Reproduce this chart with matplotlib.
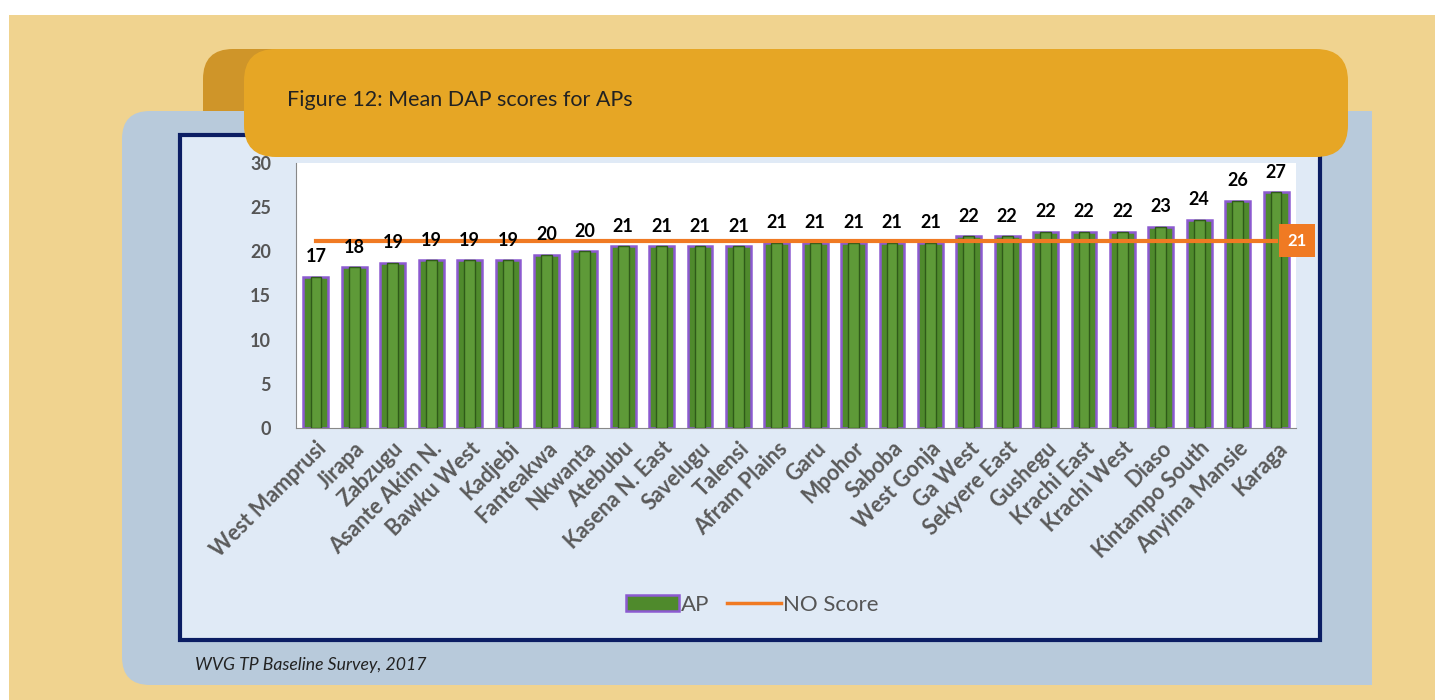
import matplotlib.pyplot as plt
import numpy as np
from matplotlib.patches import FancyBboxPatch, Rectangle, Patch
from matplotlib.lines import Line2D

# данные
areas = ["West Mamprusi", "Jirapa", "Zabzugu", "Asante Akim N.", "Bawku West",
         "Kadjebi", "Fanteakwa", "Nkwanta", "Atebubu", "Kasena N. East",
         "Savelugu", "Talensi", "Afram Plains", "Garu", "Mpohor", "Saboba",
         "West Gonja", "Ga West", "Sekyere East", "Gushegu", "Krachi East",
         "Krachi West", "Diaso", "Kintampo South", "Anyima Mansie", "Karaga"]
ap_scores = [17.1, 18.2, 18.7, 19.0, 19.0, 19.0, 19.6, 20.0, 20.6, 20.6,
             20.6, 20.6, 21.0, 21.0, 21.0, 21.0, 21.0, 21.7, 21.7, 22.2,
             22.2, 22.2, 22.8, 23.6, 25.7, 26.7]
ap_labels = ["17", "18", "19", "19", "19", "19", "20", "20", "21", "21",
             "21", "21", "21", "21", "21", "21", "21", "22", "22", "22",
             "22", "22", "23", "24", "26", "27"]
no_score = 21.2
no_label = "21"
yticks = [0, 5, 10, 15, 20, 25, 30]

W, H = 1435, 700
fig = plt.figure(figsize=(W / 100, H / 100), dpi=100)
fig.patch.set_facecolor("white")

# фон в пикселях
bg = fig.add_axes([0, 0, 1, 1])
bg.set_xlim(0, W)
bg.set_ylim(H, 0)
bg.axis("off")

bg.add_patch(Rectangle((9, 15), W - 9, H - 15, facecolor="#f0d38f", edgecolor="none"))
bg.add_patch(FancyBboxPatch((203, 49), 120, 100, boxstyle="round,pad=0,rounding_size=30",
                            facecolor="#cf9529", edgecolor="none"))
bg.add_patch(FancyBboxPatch((122, 111), 1250, 574, boxstyle="round,pad=0,rounding_size=28",
                            facecolor="#b8cadb", edgecolor="none"))
bg.add_patch(Rectangle((1300, 111), 72, 574, facecolor="#b8cadb", edgecolor="none"))
bg.add_patch(Rectangle((180, 135), 1140, 505, facecolor="#e0eaf6", edgecolor="#0b1d63", lw=3))
bg.add_patch(FancyBboxPatch((244, 49), 1104, 108, boxstyle="round,pad=0,rounding_size=32",
                            facecolor="#e6a625", edgecolor="none"))
bg.text(287, 100, "Figure 12: Mean DAP scores for APs", fontsize=15.5, color="#222222",
        family="Lato", va="center", ha="left")
bg.text(195, 665, "WVG TP Baseline Survey, 2017", fontsize=12.7, color="#222222",
        family="Lato", style="italic", va="center", ha="left")

# график
ax = fig.add_axes([296 / W, 1 - 428 / H, 1000 / W, 265 / H])
ax.set_facecolor("white")
x = np.arange(len(areas))
ax.bar(x, ap_scores, width=0.65, color="#4f8a2c", edgecolor="#8c5ad0", linewidth=1.8, zorder=2)
ax.bar(x, ap_scores, width=0.28, color="#5e9a38", edgecolor="#2f5a19", linewidth=1.0, zorder=3)
ax.plot(x, [no_score] * len(x), color="#f07a23", linewidth=3, zorder=4)

for xi, v, lab in zip(x, ap_scores, ap_labels):
    ax.text(xi, v + 1.3, lab, ha="center", va="bottom", fontsize=13,
            fontweight="bold", color="black", family="Lato", zorder=5)

ax.text(25.3, no_score, no_label, ha="left", va="center", fontsize=12, fontweight="bold",
        color="white", family="Lato", clip_on=False, zorder=6,
        bbox=dict(boxstyle="square,pad=0.5", facecolor="#f07a23", edgecolor="none"))

ax.set_xlim(-0.52, len(areas) - 0.48)
ax.set_ylim(0, 30)
ax.set_yticks(yticks)
ax.set_yticklabels([str(t) for t in yticks], fontsize=13, fontweight="bold",
                   color="#555555", family="Lato")
ax.set_xticks(x)
ax.set_xticklabels(areas, rotation=45, ha="right", rotation_mode="anchor",
                   fontsize=15.5, fontweight="bold", color="#5a5a5a", family="Lato")
ax.tick_params(axis="both", length=0)
ax.tick_params(axis="y", pad=18)
ax.tick_params(axis="x", pad=7)
for s in ["top", "right"]:
    ax.spines[s].set_visible(False)
ax.spines["left"].set_color("#888888")
ax.spines["bottom"].set_color("#888888")

handles = [Patch(facecolor="#4f8a2c", edgecolor="#8c5ad0", linewidth=1.8),
           Line2D([0], [0], color="#f07a23", linewidth=2.5)]
fig.legend(handles, ["AP", "NO Score"], loc="center", bbox_to_anchor=(752 / W, 1 - 605 / H),
           ncol=2, frameon=False, prop={"family": "Lato", "size": 16},
           labelcolor="#555555", handlelength=2.4, handletextpad=0.1, columnspacing=0.8)

fig.savefig("out.png", dpi=100)
